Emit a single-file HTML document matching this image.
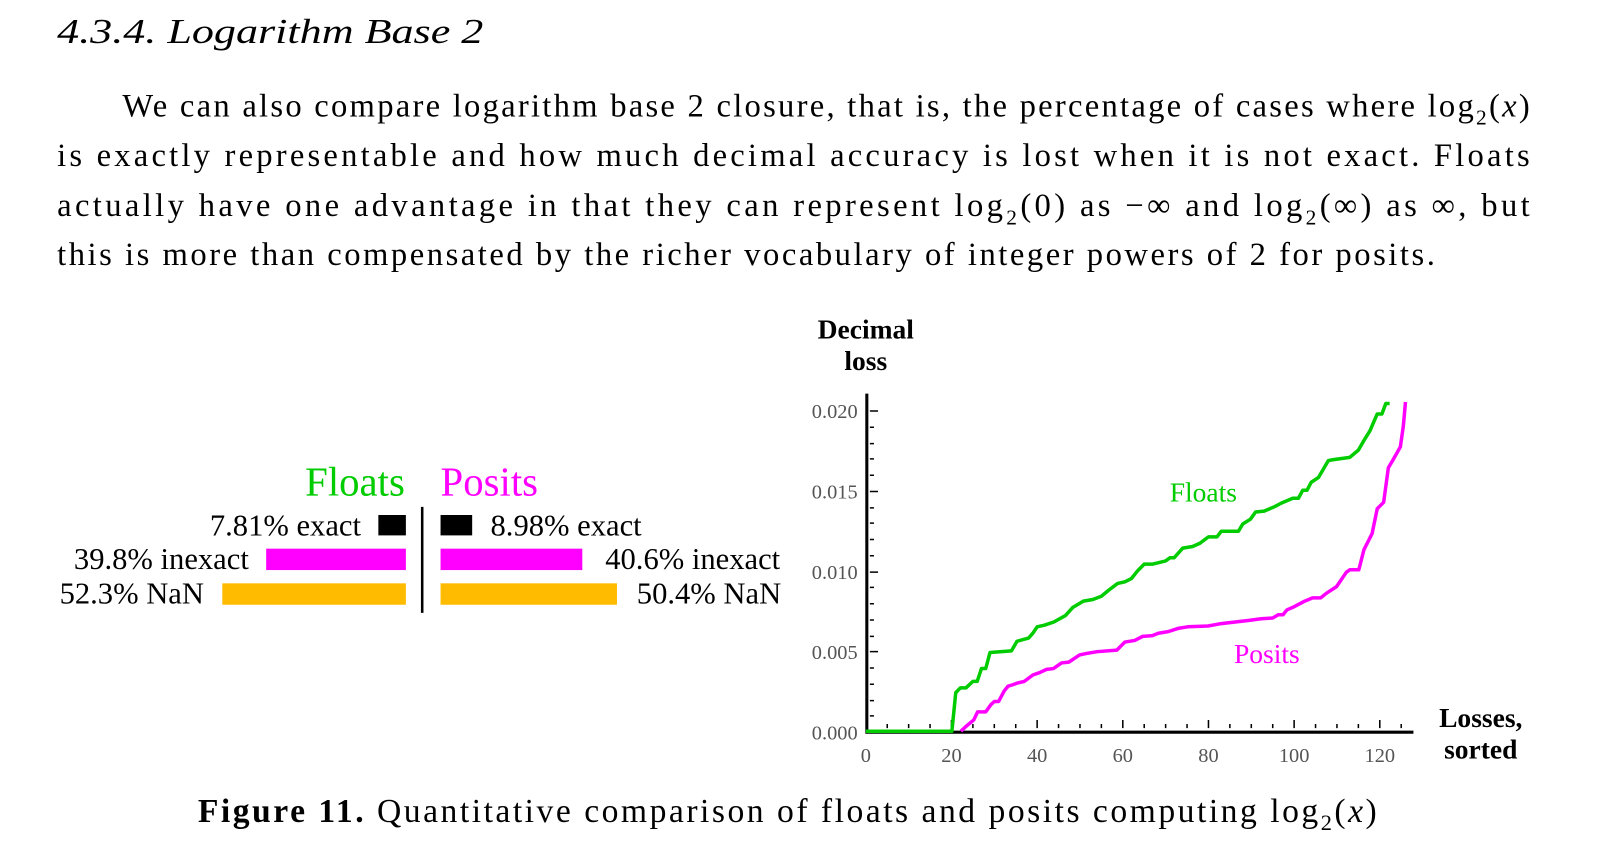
<!DOCTYPE html>
<html><head><meta charset="utf-8"><style>
html,body{margin:0;padding:0;background:#fff}
svg{display:block}
</style></head><body>
<svg width="1599" height="858" viewBox="0 0 1599 858" xmlns="http://www.w3.org/2000/svg" font-family="Liberation Serif, serif">
<g transform="scale(1.0198)">
<text x="56" y="42" font-size="34" font-style="italic" textLength="418" lengthAdjust="spacingAndGlyphs">4.3.4.  Logarithm Base 2</text>
<g font-size="32" fill="#000">
<text x="120" y="114" textLength="1380" lengthAdjust="spacing">We can also compare logarithm base 2 closure, that is, the percentage of cases where log<tspan font-size="21" dy="8">2</tspan><tspan dy="-8">(</tspan><tspan font-style="italic">x</tspan>)</text>
<text x="56" y="163" textLength="1444" lengthAdjust="spacing">is exactly representable and how much decimal accuracy is lost when it is not exact. Floats</text>
<text x="56" y="212" textLength="1444" lengthAdjust="spacing">actually have one advantage in that they can represent log<tspan font-size="21" dy="8">2</tspan><tspan dy="-8">(0) as −∞ and log</tspan><tspan font-size="21" dy="8">2</tspan><tspan dy="-8">(∞) as ∞, but</tspan></text>
<text x="56" y="260" textLength="1351" lengthAdjust="spacing">this is more than compensated by the richer vocabulary of integer powers of 2 for posits.</text>
</g>
<text x="397" y="486" font-size="40" fill="#00cc00" text-anchor="end">Floats</text>
<text x="432" y="486" font-size="40" fill="#ff00ff">Posits</text>
<line x1="414" y1="497" x2="414" y2="601" stroke="#000" stroke-width="2.5"/>
<rect x="371" y="505" width="27" height="20" fill="#000"/>
<rect x="261" y="538" width="137" height="21" fill="#ff00ff"/>
<rect x="218" y="572" width="180" height="21" fill="#ffbb00"/>
<rect x="432" y="505" width="31" height="20" fill="#000"/>
<rect x="432" y="538" width="139" height="21" fill="#ff00ff"/>
<rect x="432" y="572" width="173" height="21" fill="#ffbb00"/>
<g font-size="30">
<text x="354" y="525" text-anchor="end">7.81% exact</text>
<text x="244" y="558" text-anchor="end">39.8% inexact</text>
<text x="200" y="592" text-anchor="end">52.3% NaN</text>
<text x="481" y="525">8.98% exact</text>
<text x="765" y="558" text-anchor="end">40.6% inexact</text>
<text x="766" y="592" text-anchor="end">50.4% NaN</text>
</g>
<g font-weight="bold" font-size="27" text-anchor="middle">
<text x="849" y="332">Decimal</text><text x="849" y="363">loss</text>
<text x="1452" y="713">Losses,</text><text x="1452" y="744">sorted</text>
</g>
<g stroke="#000" stroke-width="1.5">
<path d="M853,403h8M853,482h8M853,561h8M853,639h8" />
<path d="M853,419h4M853,435h4M853,450h4M853,466h4M853,498h4M853,513h4M853,529h4M853,545h4M853,576h4M853,592h4M853,608h4M853,624h4M853,655h4M853,671h4M853,687h4M853,702h4"/>
<path d="M933,714v-8M1017,714v-8M1101,714v-8M1185,714v-8M1269,714v-8M1353,714v-8"/>
<path d="M870,714v-4M891,714v-4M912,714v-4M954,714v-4M975,714v-4M996,714v-4M1038,714v-4M1059,714v-4M1080,714v-4M1122,714v-4M1143,714v-4M1164,714v-4M1206,714v-4M1227,714v-4M1248,714v-4M1290,714v-4M1311,714v-4M1332,714v-4M1374,714v-4"/>
</g>
<path d="M850,386V718H1386" fill="none" stroke="#000" stroke-width="3"/>
<g font-size="20" fill="#555" text-anchor="end">
<text x="841" y="410">0.020</text><text x="841" y="489">0.015</text><text x="841" y="568">0.010</text><text x="841" y="646">0.005</text><text x="841" y="725">0.000</text>
</g>
<g font-size="20" fill="#555" text-anchor="middle">
<text x="849" y="747">0</text><text x="933" y="747">20</text><text x="1017" y="747">40</text><text x="1101" y="747">60</text><text x="1185" y="747">80</text><text x="1269" y="747">100</text><text x="1353" y="747">120</text>
</g>
<g transform="translate(849,717) scale(4.2,-15.75)" fill="none" stroke-width="3.5" stroke-linejoin="round">
<polyline vector-effect="non-scaling-stroke" stroke="#ff00ff" points="22.2,0 23.4,0.3 25.2,0.7 26.1,1.2 28,1.2 29.2,1.65 30,1.85 31,1.85 32.3,2.5 33.2,2.8 34.4,2.9 35.4,3 37,3.1 39,3.5 40.6,3.65 42.2,3.85 43.8,3.9 45.7,4.25 47.4,4.3 49.9,4.75 51.7,4.85 54,4.95 58.6,5.05 60.5,5.55 62.8,5.65 64.6,5.9 66.9,5.95 68.3,6.1 70.6,6.2 72.9,6.4 75.2,6.5 79.9,6.55 83,6.7 89.5,6.9 92.3,7 95,7.05 96.3,7.25 97.4,7.25 98.3,7.55 100,7.75 102.5,8.1 104.3,8.3 106.2,8.3 107.6,8.6 109.9,9 112.2,9.9 113,10.05 115.1,10.05 116.3,11.3 118.2,12.3 119.4,13.85 120.9,14.25 122,16.4 123,16.85 124.8,17.7 125.5,19 126,20.5"/>
<polyline vector-effect="non-scaling-stroke" stroke="#00cc00" points="0,0 20.1,0 21,2.4 22.1,2.7 23.4,2.7 25,3.1 26,3.1 27,3.9 28,3.9 29,4.9 34,5 35.3,5.6 38,5.8 39,6.1 40,6.5 41.7,6.6 43.9,6.8 46.6,7.2 48.3,7.7 50.8,8.1 53,8.2 55,8.4 56.8,8.8 58.8,9.2 60.5,9.3 62,9.5 63.5,10 65,10.4 66.9,10.4 70,10.6 71,10.8 72,10.8 74,11.4 76.3,11.5 78,11.7 80,12.1 82,12.1 83,12.45 87,12.45 88,12.9 89.8,13.2 91,13.65 93,13.7 95.6,14 97,14.2 99.7,14.5 101,14.5 102,15 103,15 104,15.5 105.7,15.8 108,16.85 109,16.9 113,17.05 115,17.5 116.3,18.1 117.7,18.7 119.4,19.75 120.5,19.75 121.4,20.4 122.3,20.4"/>
</g>
<text x="1147" y="492" font-size="27" fill="#00cc00">Floats</text>
<text x="1210" y="650" font-size="27" fill="#ff00ff">Posits</text>
<text x="194" y="806" font-size="33" textLength="1156" lengthAdjust="spacing"><tspan font-weight="bold">Figure 11.</tspan> Quantitative comparison of floats and posits computing log<tspan font-size="22" dy="8">2</tspan><tspan dy="-8">(</tspan><tspan font-style="italic">x</tspan>)</text>
</g>
</svg>
</body></html>
